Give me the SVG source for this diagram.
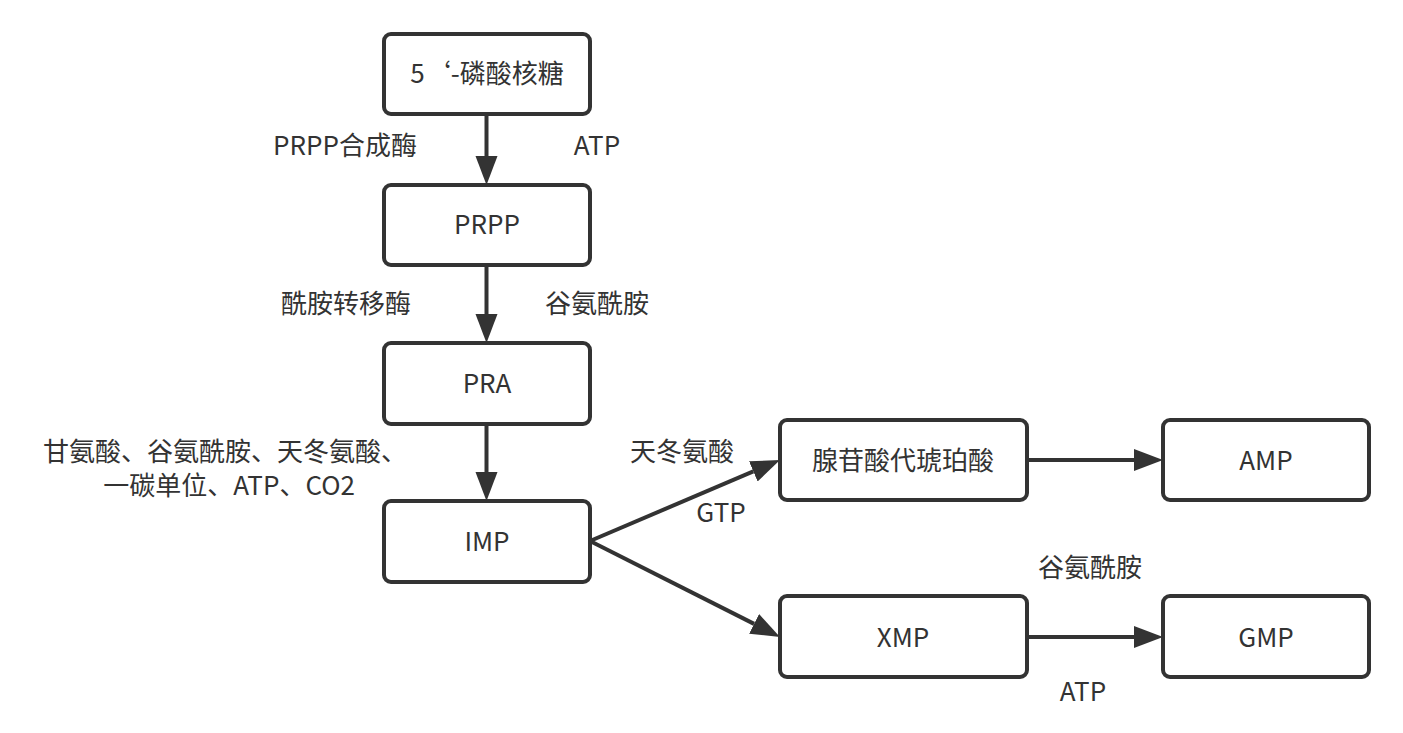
<svg xmlns="http://www.w3.org/2000/svg" width="1403" height="733" viewBox="0 0 1403 733">
<style>
.box{fill:#ffffff;stroke:#333333;stroke-width:4}
.t{font-family:"Noto Sans CJK SC","Open Sans",sans-serif;font-size:26px;fill:#333333;text-anchor:middle}
.c{stroke:#333333;stroke-width:4;fill:none;marker-end:url(#ah)}
</style>
<defs>
<marker id="ah" markerUnits="userSpaceOnUse" markerWidth="32" markerHeight="24" refX="0" refY="11" orient="auto">
<path d="M0,0 L29,11 L0,22 Z" fill="#333333"/>
</marker>
</defs>
<rect width="1403" height="733" fill="#ffffff"/>
<g id="connectors">
<line class="c" x1="486.5" y1="114" x2="486.5" y2="156"/>
<line class="c" x1="486.5" y1="265" x2="486.5" y2="314"/>
<line class="c" x1="486.5" y1="424" x2="486.5" y2="472"/>
<line class="c" x1="590" y1="541" x2="753.3" y2="471.4"/>
<line class="c" x1="590" y1="541" x2="754.1" y2="623.9"/>
<line class="c" x1="1027" y1="460" x2="1134" y2="460"/>
<line class="c" x1="1027" y1="637" x2="1134" y2="637"/>
</g>
<g id="labels">
<text class="t" x="345" y="155">PRPP合成酶</text>
<text class="t" x="597" y="155">ATP</text>
<text class="t" x="346" y="313">酰胺转移酶</text>
<text class="t" x="597" y="313">谷氨酰胺</text>
<text class="t" x="225" y="461">甘氨酸、谷氨酰胺、天冬氨酸、</text>
<text class="t" x="229" y="495">一碳单位、ATP、CO2</text>
<text class="t" x="682" y="461">天冬氨酸</text>
<text class="t" x="721" y="522">GTP</text>
<text class="t" x="1090" y="577">谷氨酰胺</text>
<text class="t" x="1083" y="701">ATP</text>
</g>
<g id="node-r5p">
<rect class="box" x="384" y="34" width="206" height="80" rx="7"/>
<text class="t" x="487" y="83">5‘-磷酸核糖</text>
</g>
<g id="node-prpp">
<rect class="box" x="384" y="185" width="206" height="80" rx="7"/>
<text class="t" x="487" y="234">PRPP</text>
</g>
<g id="node-pra">
<rect class="box" x="384" y="343" width="206" height="81" rx="7"/>
<text class="t" x="487" y="393">PRA</text>
</g>
<g id="node-imp">
<rect class="box" x="384" y="501" width="206" height="81" rx="7"/>
<text class="t" x="487" y="551">IMP</text>
</g>
<g id="node-sampl">
<rect class="box" x="780" y="420" width="247" height="80" rx="7"/>
<text class="t" x="903" y="470">腺苷酸代琥珀酸</text>
</g>
<g id="node-amp">
<rect class="box" x="1163" y="420" width="206" height="80" rx="7"/>
<text class="t" x="1266" y="470">AMP</text>
</g>
<g id="node-xmp">
<rect class="box" x="780" y="596" width="247" height="81" rx="7"/>
<text class="t" x="903" y="647">XMP</text>
</g>
<g id="node-gmp">
<rect class="box" x="1163" y="596" width="206" height="81" rx="7"/>
<text class="t" x="1266" y="647">GMP</text>
</g>
</svg>
